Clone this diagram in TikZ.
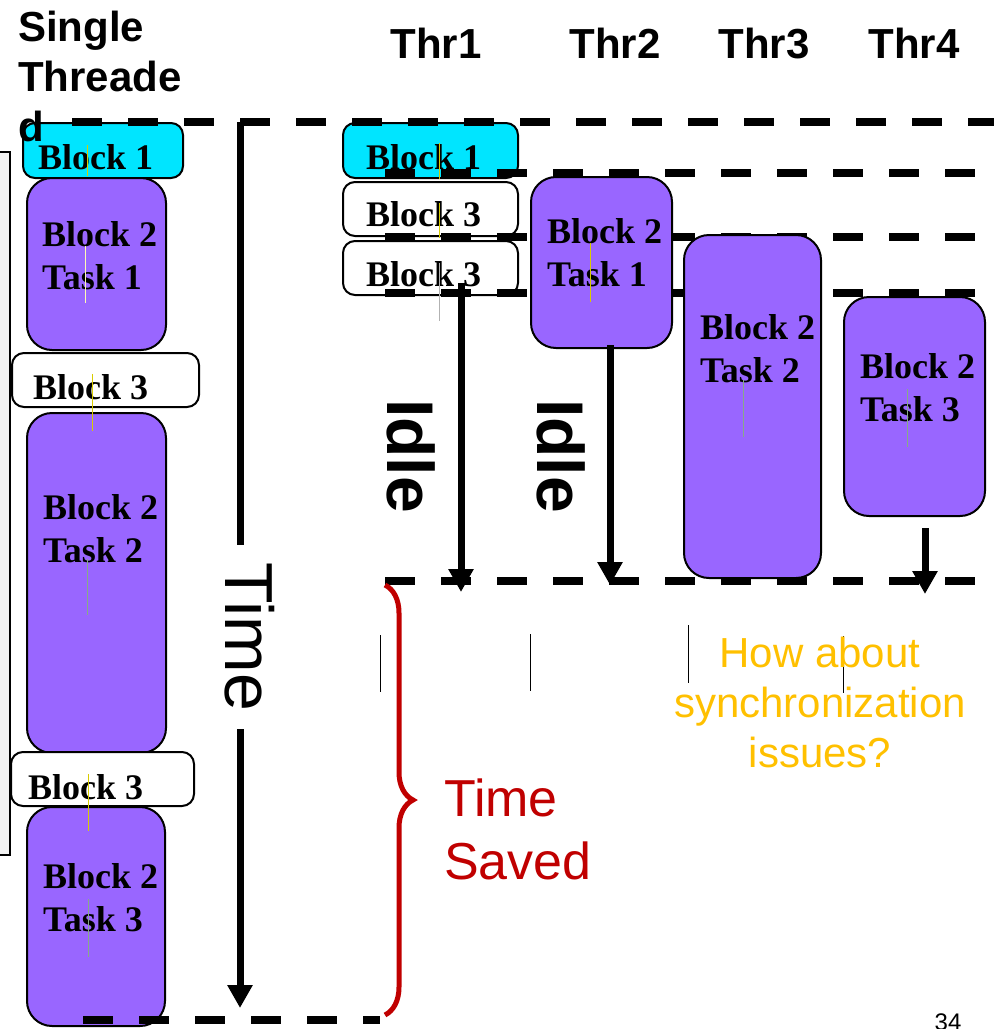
\documentclass[tikz,border=0pt]{standalone}
\usepackage{fontspec}
\setmainfont{Liberation Serif}
\setsansfont{Liberation Sans}
\usetikzlibrary{positioning}
\usetikzlibrary{arrows.meta}
\usetikzlibrary{decorations.pathreplacing}
\definecolor{blkcyan}{HTML}{00E5FF}
\definecolor{blkpurple}{HTML}{9966FF}
\definecolor{savedred}{HTML}{C00000}
\definecolor{syncyellow}{HTML}{FFC000}
\definecolor{markyellow}{HTML}{D8CC00}
\definecolor{markgreen}{HTML}{88AA88}
\tikzset{
	blk/.style={draw, line width=2pt, rounded corners=12pt, anchor=north west, inner sep=0pt},
	cyanblk/.style={blk, fill=blkcyan},
	whiteblk/.style={blk, fill=white},
	taskblk/.style={blk, fill=blkpurple, rounded corners=25pt},
	blktext/.style={font=\fontsize{36}{43}\selectfont\bfseries, align=left, anchor=north west, inner sep=0pt},
	headtext/.style={font=\fontsize{42}{50}\selectfont\sffamily\bfseries, align=left, inner sep=0pt},
	syncline/.style={line width=8pt, dash pattern=on 30pt off 26pt},
	timearrow/.style={line width=7pt, -{Triangle[width=24pt,length=23pt]}},
	idletext/.style={font=\fontsize{66}{70}\selectfont\sffamily\bfseries, rotate=-90, inner sep=0pt},
	tinyline/.style={line width=0.8pt},
}

\begin{document}
\begin{tikzpicture}[x=1pt, y=-1pt]
	\useasboundingbox (0,0) rectangle (994,1029);
	% grey strip on the left
	\draw[fill=black!5, line width=1.2pt] (-5,152) rectangle (10,855);
	% single threaded column
	\node[cyanblk, minimum width=160pt, minimum height=55pt] (s1) at (22,122) {};
	\node[taskblk, minimum width=139pt, minimum height=172pt] (s2a) at (26,177) {};
	\node[whiteblk, minimum width=187pt, minimum height=54pt] (s3a) at (11,352) {};
	\node[taskblk, minimum width=139pt, minimum height=340pt] (s2b) at (26,412) {};
	\node[whiteblk, minimum width=183pt, minimum height=54pt] (s3b) at (10,751) {};
	\node[taskblk, minimum width=138pt, minimum height=219pt] (s2c) at (26,806) {};
	% thread 1
	\node[cyanblk, minimum width=175pt, minimum height=55pt] (t1a) at (342,122) {};
	\node[whiteblk, minimum width=175pt, minimum height=54pt] (t1b) at (342,181) {};
	\node[whiteblk, minimum width=175pt, minimum height=54pt] (t1c) at (342,240) {};
	% sync lines
	\draw[syncline] (385,237) -- (975,237);
	\draw[syncline] (385,293) -- (975,293);
	\draw[syncline] (385,581) -- (975,581);
	% threads 2-4
	\node[taskblk, minimum width=141pt, minimum height=171pt] (t2) at (530,176) {};
	\node[taskblk, minimum width=137pt, minimum height=343pt] (t3) at (683,234) {};
	\node[taskblk, minimum width=141pt, minimum height=219pt] (t4) at (843,296) {};
	\draw[syncline] (72,122) -- (994,122);
	\draw[syncline] (385,173) -- (975,173);
	\draw[syncline] (83,1020) -- (380,1020);
	% box texts
	\node[blktext] (s1txt) at (38,144) {Block 1};
	\node[blktext] (s2atxt) at (42,221) {Block 2\\Task 1};
	\node[blktext] (s3atxt) at (33,374) {Block 3};
	\node[blktext] (s2btxt) at (43,494) {Block 2\\Task 2};
	\node[blktext] (s3btxt) at (28,774) {Block 3};
	\node[blktext] (s2ctxt) at (43,863) {Block 2\\Task 3};
	\node[blktext] (t1atxt) at (366,144) {Block 1};
	\node[blktext] (t1btxt) at (366,201) {Block 3};
	\node[blktext] (t1ctxt) at (366,261) {Block 3};
	\node[blktext] (t2txt) at (547,218) {Block 2\\Task 1};
	\node[blktext] (t3txt) at (700,314) {Block 2\\Task 2};
	\node[blktext] (t4txt) at (860,353) {Block 2\\Task 3};
	% small marks
	\draw[tinyline, markyellow] (87,145) -- (87,176);
	\draw[tinyline, yellow!30] (85,246) -- (85,303);
	\draw[tinyline, markyellow] (92,374) -- (92,431);
	\draw[tinyline, markgreen] (87,559) -- (87,615);
	\draw[tinyline, markyellow] (88,774) -- (88,831);
	\draw[tinyline, markgreen] (88,899) -- (88,957);
	\draw[tinyline, markyellow] (439,143) -- (439,179);
	\draw[tinyline, markyellow] (439,203) -- (439,238);
	\draw[tinyline, black!30] (439,263) -- (439,321);
	\draw[tinyline, markyellow] (590,243) -- (590,302);
	\draw[tinyline, markgreen] (743,380) -- (743,437);
	\draw[tinyline, markgreen] (907,389) -- (907,447);
	\draw[tinyline] (380,635) -- (380,692);
	\draw[tinyline] (530,634) -- (530,691);
	\draw[tinyline] (688,625) -- (688,683);
	\draw[tinyline] (843,636) -- (843,693);
	% time arrow
	\coordinate (timetop) at (240,122);
	\coordinate (timeend) at (240,1008);
	\draw[timearrow] (timetop) -- (timeend);
	\node[font=\fontsize{68}{72}\selectfont\sffamily, rotate=-90, fill=white, inner xsep=18pt, inner ysep=1pt] (time) at (250,637) {Time};
	% idle arrows
	\coordinate (idle1end) at (461,592);
	\coordinate (idle2end) at (610,585);
	\coordinate (idle4top) at (925,528);
	\coordinate (idle4end) at (925,594);
	\draw[timearrow] (461,283) -- (idle1end);
	\draw[timearrow] (t2.south -| idle2end) ++(0,-4) -- (idle2end);
	\draw[timearrow] (idle4top) -- (idle4end);
	\node[idletext] (idle1) at (411,456) {Idle};
	\node[idletext] (idle2) at (561,456) {Idle};
	% time saved
	\coordinate (bracetop) at (385,585);
	\coordinate (bracebot) at (385,1015);
	\draw[savedred, line width=5pt, decorate, decoration={brace, amplitude=28pt}] (bracetop) -- (bracebot);
	\node[font=\fontsize{52}{63}\selectfont\sffamily, text=savedred, align=left, anchor=north west, inner sep=0pt] (saved) at (444,779) {Time\\Saved};
	\node[font=\fontsize{42}{50}\selectfont\sffamily, text=syncyellow, align=center, anchor=north, inner sep=0pt] (sync) at (820,637) {How about\\synchronization\\issues?};
	% headings
	\node[headtext, anchor=north west] (single) at (18,11) {Single\\Threade\\d};
	\node[headtext, anchor=base] (thr1) at (436,58) {Thr1};
	\node[headtext, anchor=base] (thr2) at (615,58) {Thr2};
	\node[headtext, anchor=base] (thr3) at (764,58) {Thr3};
	\node[headtext, anchor=base] (thr4) at (914,58) {Thr4};
	\node[font=\fontsize{24}{28}\selectfont\sffamily, anchor=north, inner sep=0pt] (pagenum) at (948,1014) {34};
\end{tikzpicture}
\end{document}
